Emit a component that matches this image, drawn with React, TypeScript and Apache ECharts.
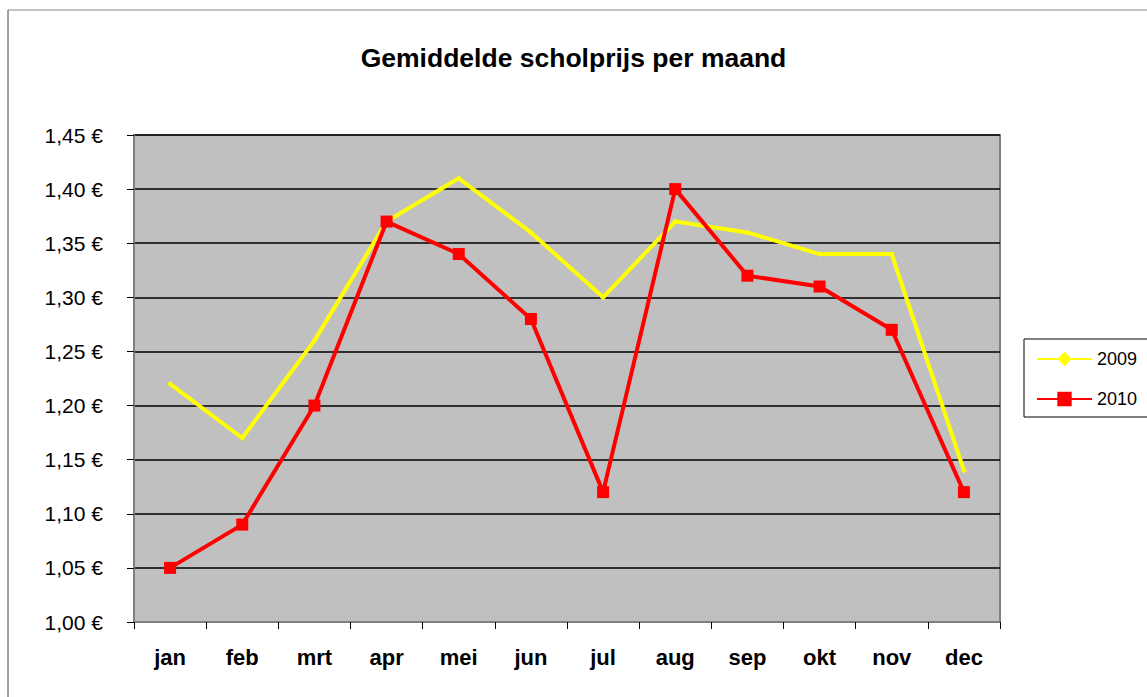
import React, { useEffect, useRef } from "react";
import * as echarts from "echarts";

const months = ["jan", "feb", "mrt", "apr", "mei", "jun", "jul", "aug", "sep", "okt", "nov", "dec"];
const values2009 = [1.22, 1.17, 1.26, 1.37, 1.41, 1.36, 1.30, 1.37, 1.36, 1.34, 1.34, 1.14];
const values2010 = [1.05, 1.09, 1.20, 1.37, 1.34, 1.28, 1.12, 1.40, 1.32, 1.31, 1.27, 1.12];
const titleText = "Gemiddelde scholprijs per maand";
const seriesNames = ["2009", "2010"];

const FONT = "Arial, 'Liberation Sans', sans-serif";

export default function App() {
  const ref = useRef<HTMLDivElement>(null);
  useEffect(() => {
    if (!ref.current) return;
    const chart = echarts.init(ref.current, null, { renderer: "svg" });
    chart.setOption({
      animation: false,
      backgroundColor: "#ffffff",
      title: {
        text: titleText,
        left: "center",
        top: 39,
        textStyle: { fontFamily: FONT, fontSize: 26.5, fontWeight: "bold", color: "#000" },
      },
      legend: {
        orient: "vertical",
        left: 1024,
        top: 339,
        padding: [11, 11, 9, 12],
        borderColor: "#000",
        borderWidth: 1,
        itemWidth: 55,
        itemHeight: 18,
        itemGap: 22,
        textStyle: { fontFamily: FONT, fontSize: 18, color: "#000" },
        data: seriesNames,
      },
      grid: {
        left: 134,
        top: 135,
        right: 147,
        bottom: 75,
        show: true,
        backgroundColor: "#C0C0C0",
        borderColor: "#808080",
        borderWidth: 2,
      },
      xAxis: {
        type: "category",
        data: months,
        boundaryGap: true,
        axisLine: { lineStyle: { color: "#808080", width: 2 } },
        axisTick: { show: true, length: 7, alignWithLabel: false, lineStyle: { color: "#000", width: 1 } },
        axisLabel: { fontFamily: FONT, fontSize: 22, fontWeight: "bold", color: "#000", margin: 24 },
        splitLine: { show: false },
      },
      yAxis: {
        type: "value",
        min: 1.0,
        max: 1.45,
        interval: 0.05,
        axisLine: { show: true, lineStyle: { color: "#808080", width: 2 } },
        axisTick: { show: true, length: 7, lineStyle: { color: "#000", width: 1 } },
        axisLabel: {
          fontFamily: FONT,
          fontSize: 21,
          color: "#000",
          margin: 31,
          formatter: (v: number) => v.toFixed(2).replace(".", ",") + " €",
        },
        splitLine: { show: true, lineStyle: { color: "#000", width: 1.5 } },
      },
      graphic: [
        { type: "line", shape: { x1: 8, y1: 10, x2: 1147, y2: 10 }, style: { stroke: "#888", lineWidth: 1 } },
        { type: "line", shape: { x1: 8, y1: 10, x2: 8, y2: 697 }, style: { stroke: "#444", lineWidth: 1 } },
      ],
      series: [
        {
          name: seriesNames[0],
          type: "line",
          data: values2009,
          symbol: "diamond",
          symbolSize: 6,
          lineStyle: { color: "#FFFF00", width: 4 },
          itemStyle: { color: "#FFFF00" },
          z: 2,
        },
        {
          name: seriesNames[1],
          type: "line",
          data: values2010,
          symbol: "rect",
          symbolSize: 12,
          lineStyle: { color: "#FF0000", width: 4 },
          itemStyle: { color: "#FF0000" },
          z: 3,
        },
      ],
    });
    return () => chart.dispose();
  }, []);
  return (
    <div
      ref={ref}
      style={{ position: "fixed", left: 0, top: 0, width: 1147, height: 697 }}
    />
  );
}
